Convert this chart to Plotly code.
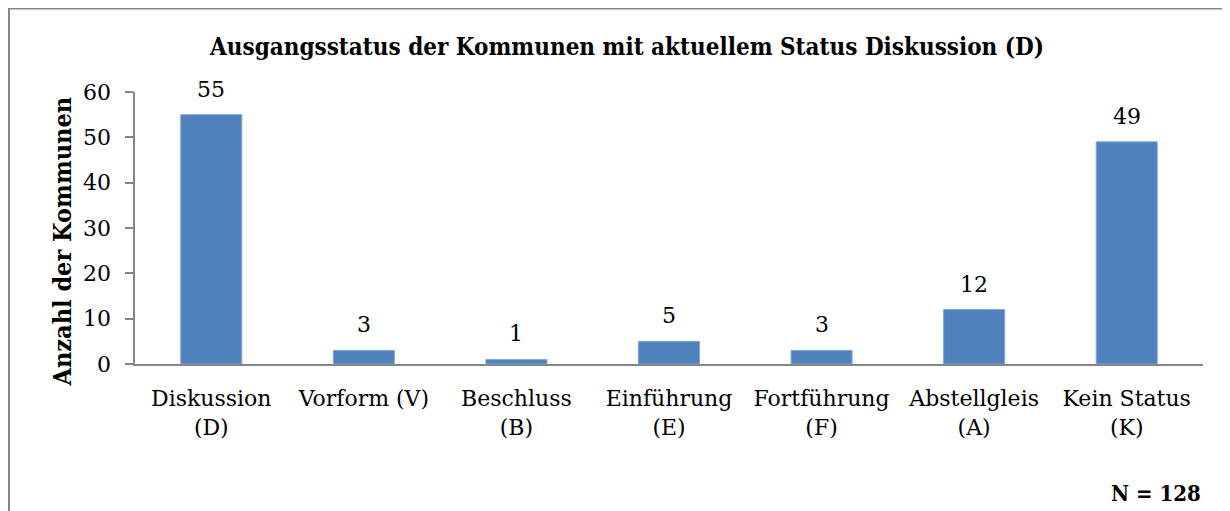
import plotly.graph_objects as go

categories = ["Diskussion<br>(D)", "Vorform (V)", "Beschluss<br>(B)", "Einführung<br>(E)",
              "Fortführung<br>(F)", "Abstellgleis<br>(A)", "Kein Status<br>(K)"]
values = [55, 3, 1, 5, 3, 12, 49]
y_ticks = [0, 10, 20, 30, 40, 50, 60]

FONT = "DejaVu Serif"
BOLD = "DejaVu Serif Condensed, DejaVu Serif"
OFF = 8  # page body margin
W, H = 1230, 511
L, T = 135 - OFF, 92 - OFF
R = W - (1203 - OFF)
B = H - (364 - OFF)
pw, ph = W - L - R, H - T - B

def px(x):
    return (x - OFF - L) / pw

def py(y):
    return (H - B - (y - OFF)) / ph

pad = "<span style='font-size:15px;color:rgba(0,0,0,0)'>0</span>"
y_ticktext = [f"{v}{pad}" for v in y_ticks]

fig = go.Figure(go.Bar(
    x=categories, y=values,
    marker=dict(color="#4F81BD", line=dict(color="#7FA6D6", width=1)),
    width=0.4, hoverinfo="x+y",
))

label_anns = [dict(x=c, y=v, xref="x", yref="y", text=str(v), showarrow=False,
                   yanchor="bottom", yshift=11,
                   font=dict(family=FONT, size=22, color="black"))
              for c, v in zip(categories, values)]

gray = "#868686"
fig.update_layout(
    width=W, height=H,
    margin=dict(l=L, r=R, t=T, b=B),
    paper_bgcolor="white", plot_bgcolor="white",
    showlegend=False,
    font=dict(family=FONT, size=22, color="black"),
    title=dict(text="<b>Ausgangsstatus der Kommunen mit aktuellem Status Diskussion (D)</b>",
               x=px(627), xanchor="center", xref="paper", y=1 - (47 - OFF) / H, yanchor="middle",
               font=dict(family=BOLD, size=24, color="black")),
    xaxis=dict(showline=True, linecolor=gray, linewidth=2, ticks="", showgrid=False,
               ticklabelstandoff=14,
               tickfont=dict(family=FONT, size=22, color="black")),
    yaxis=dict(range=[0, 60], tickvals=y_ticks, ticktext=y_ticktext,
               showline=True, linecolor=gray, linewidth=2,
               ticks="outside", ticklen=8, tickcolor=gray, tickwidth=2, showgrid=False,
               zeroline=False,
               tickfont=dict(family=FONT, size=22, color="black")),
    shapes=[dict(type="path", xref="paper", yref="paper",
                 path=f"M {px(9)} {py(520)} L {px(9)} {py(8.5)} L {px(1240)} {py(8.5)}",
                 line=dict(color=gray, width=2))],
    annotations=label_anns + [
        dict(text="<b>Anzahl der Kommunen</b>", xref="paper", yref="paper",
             x=px(61.5), y=py(242), xanchor="center", yanchor="middle", textangle=-90,
             showarrow=False, font=dict(family=BOLD, size=25, color="black")),
        dict(text="<b>N = 128</b>", xref="paper", yref="paper",
             x=px(1203), y=py(493), xanchor="right", yanchor="middle",
             showarrow=False, font=dict(family=BOLD, size=22, color="black")),
    ],
)

fig.write_html("out.html")
